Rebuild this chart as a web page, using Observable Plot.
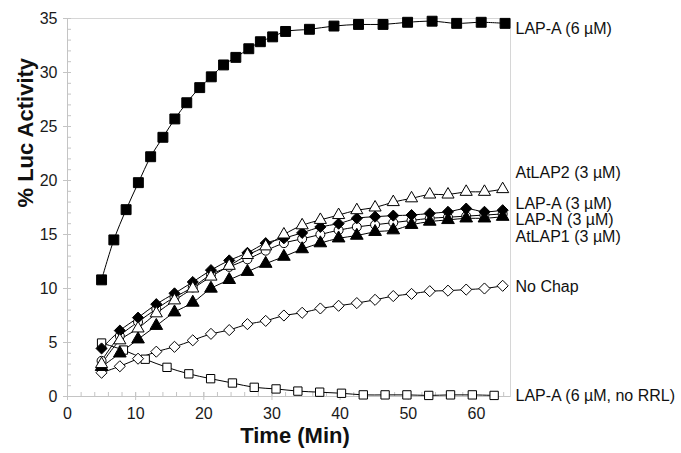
<!DOCTYPE html>
<html><head><meta charset="utf-8">
<script src="https://cdn.jsdelivr.net/npm/d3@7"></script>
<script src="https://cdn.jsdelivr.net/npm/@observablehq/plot@0.6"></script>
<style>body{margin:0;background:#fff;}</style>
</head><body><div id="chart"></div>
<script>
// Time points (min)
const timeLapA6 = [5, 6.8, 8.6, 10.4, 12.2, 14.0, 15.75, 17.5, 19.4, 21.1, 22.9, 24.7, 26.6, 28.3, 30.1, 32.0, 35.5, 39.1, 42.7, 46.3, 49.9, 53.5, 57.1, 60.7, 64.2];
const timeStd = [5.0, 7.68, 10.35, 13.03, 15.7, 18.38, 21.05, 23.73, 26.4, 29.08, 31.75, 34.43, 37.1, 39.78, 42.45, 45.13, 47.8, 50.48, 53.15, 55.83, 58.5, 61.18, 63.85];
const timeNoRRL = [5.0, 8.2, 11.4, 14.6, 17.8, 21.0, 24.2, 27.4, 30.6, 33.8, 37.0, 40.2, 43.4, 46.6, 49.8, 53.0, 56.2, 59.4, 62.6];

// % Luc activity
const lapA6 = [10.8, 14.5, 17.3, 19.8, 22.2, 24.0, 25.7, 27.2, 28.6, 29.6, 30.7, 31.4, 32.2, 32.85, 33.3, 33.8, 34.0, 34.3, 34.45, 34.45, 34.65, 34.75, 34.55, 34.65, 34.55];
const atLap2 = [3.0, 5.2, 6.3, 7.7, 8.9, 10.0, 11.1, 12.1, 13.1, 13.9, 15.0, 15.85, 16.35, 16.8, 17.25, 17.5, 18.0, 18.35, 18.7, 18.7, 18.95, 18.95, 19.2];
const lapA3 = [3.3, 5.6, 6.9, 8.1, 9.2, 10.1, 11.3, 12.0, 12.7, 13.5, 14.2, 14.6, 15.0, 15.4, 15.7, 15.9, 16.1, 16.3, 16.5, 16.6, 16.7, 16.8, 16.9];
const lapN3 = [4.45, 6.1, 7.3, 8.55, 9.55, 10.6, 11.7, 12.6, 13.3, 14.2, 14.65, 15.15, 15.7, 16.0, 16.5, 16.65, 16.75, 16.8, 16.95, 17.1, 17.4, 17.1, 17.25];
const atLap1 = [2.75, 4.0, 5.3, 6.55, 7.8, 8.7, 10.0, 10.8, 11.55, 12.3, 12.95, 13.65, 14.2, 14.65, 14.9, 15.25, 15.4, 15.9, 16.2, 16.35, 16.5, 16.5, 16.65];
const noChap = [2.2, 2.8, 3.5, 4.15, 4.6, 5.2, 5.8, 6.15, 6.7, 7.0, 7.5, 7.75, 8.15, 8.4, 8.65, 8.95, 9.3, 9.5, 9.75, 9.8, 9.9, 10.0, 10.25];
const lapA6noRRL = [4.95, 4.3, 3.45, 2.7, 2.1, 1.65, 1.25, 0.85, 0.7, 0.5, 0.4, 0.3, 0.15, 0.15, 0.15, 0.1, 0.15, 0.15, 0.1];

// Right-hand series labels and their vertical anchor (data units)
const labelNames = ["LAP-A (6 µM)", "AtLAP2 (3 µM)", "LAP-A (3 µM)", "LAP-N (3 µM)", "AtLAP1 (3 µM)", "No Chap", "LAP-A (6 µM, no RRL)"];
const labelValues = [34.0, 20.7, 17.85, 16.35, 14.75, 10.15, 0.1];

const xTicks = [0, 10, 20, 30, 40, 50, 60];
const yTicks = [0, 5, 10, 15, 20, 25, 30, 35];
const xMinor = d3.range(0, 66, 2);
const yMinor = d3.range(0, 36, 1);

const rows = (times, vals) => times.map((t, i) => ({t, v: vals[i]}));

const series = [
  {data: rows(timeNoRRL, lapA6noRRL), symbol: "square", fill: "white", r: 4.7},
  {data: rows(timeStd, noChap), symbol: "diamond2", fill: "white", r: 5.0},
  {data: rows(timeStd, lapA3), symbol: "circle", fill: "white", r: 4.5},
  {data: rows(timeStd, atLap1), symbol: "triangle", fill: "black", r: 4.7},
  {data: rows(timeStd, lapN3), symbol: "diamond2", fill: "black", r: 5.0},
  {data: rows(timeStd, atLap2), symbol: "triangle", fill: "white", r: 4.5},
  {data: rows(timeLapA6, lapA6), symbol: "square", fill: "black", r: 5.6}
];

const H = 453, mt = 18, mb = 57;
const ph = H - mt - mb;
const axisColor = "#c4c4c4";

const marks = [
  Plot.frame({stroke: "#d6d6d6"}),
  Plot.ruleY([0], {stroke: axisColor}),
  Plot.ruleX([0], {stroke: axisColor}),
  Plot.tickX(xMinor, {x: d => d, stroke: axisColor, insetTop: ph - 4}),
  Plot.tickX(xTicks, {x: d => d, stroke: axisColor, insetTop: ph - 4, insetBottom: -4}),
  Plot.tickY(yMinor, {y: d => d, stroke: axisColor, insetRight: 443 - 4}),
  Plot.tickY(yTicks, {y: d => d, stroke: axisColor, insetRight: 443 - 4, insetLeft: -4}),
  Plot.axisX(xTicks, {tickSize: 0, tickPadding: 11, fontSize: 16, fill: "#1a1a1a", label: null}),
  Plot.axisY(yTicks, {tickSize: 0, tickPadding: 10, fontSize: 16, fill: "#1a1a1a", label: null})
];
for (const s of series) {
  marks.push(Plot.line(s.data, {x: "t", y: "v", curve: "catmull-rom", stroke: "black", strokeWidth: 1}));
}
for (const s of series) {
  marks.push(Plot.dot(s.data, {x: "t", y: "v", symbol: () => s.symbol, r: s.r, fill: s.fill, stroke: "black", strokeWidth: 1}));
}
marks.push(
  Plot.text(labelNames, {y: (d, i) => labelValues[i], text: d => d, frameAnchor: "right", textAnchor: "start", dx: 5, fontSize: 16, fill: "#111"}),
  Plot.text(["Time (Min)"], {frameAnchor: "bottom", dy: 46, dx: 6, fontSize: 22, fontWeight: "bold", fill: "#111"}),
  Plot.text(["% Luc Activity"], {frameAnchor: "left", dx: -42, rotate: -90, fontSize: 22, fontWeight: "bold", fill: "#111"})
);

const chart = Plot.plot({
  width: 681,
  height: H,
  marginLeft: 67,
  marginRight: 171,
  marginTop: mt,
  marginBottom: mb,
  style: {fontFamily: "'Liberation Sans', Arial, sans-serif", fontSize: "16px", background: "white"},
  x: {domain: [0, 65], axis: null},
  y: {domain: [0, 35], axis: null},
  symbol: {type: "identity"},
  marks
});
document.getElementById("chart").appendChild(chart);
</script>
</body></html>
